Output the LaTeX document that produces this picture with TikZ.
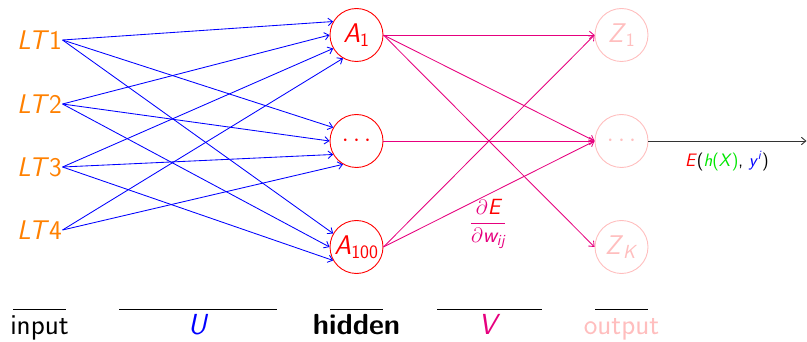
\documentclass[tikz,border=0pt]{standalone}
\usetikzlibrary{arrows.meta}
\definecolor{lorange}{rgb}{1,0.5,0}
\definecolor{lmag}{RGB}{230,0,126}
\definecolor{lpink}{RGB}{255,190,190}
\definecolor{lgreen}{RGB}{0,230,0}
\begin{document}
\begin{tikzpicture}[x=1pt,y=-1pt,
  font=\sffamily,
  >={Straight Barb[length=4.5pt,width=7.5pt]},
  inlabel/.style={text=lorange,inner sep=0.5pt,font=\sffamily\fontsize{27}{30}\selectfont},
  hid/.style={circle,draw=red,line width=0.9pt,minimum size=53pt,inner sep=0pt,text=red,font=\sffamily\fontsize{27}{30}\selectfont},
  outn/.style={circle,draw=lpink,line width=0.9pt,minimum size=53pt,inner sep=0pt,text=lpink,font=\sffamily\fontsize{27}{30}\selectfont},
  uarr/.style={->,draw=blue,line width=0.85pt},
  varr/.style={->,draw=lmag,line width=0.85pt},
  sepline/.style={draw=black,line width=0.9pt},
  bottomlabel/.style={anchor=base,inner sep=0pt,font=\sffamily\fontsize{29}{32}\selectfont}]
\useasboundingbox (0,0) rectangle (807,342);
% input
\node[inlabel] (L1) at (39.5,40) {\textit{LT}1};
\node[inlabel] (L2) at (39.5,104) {\textit{LT}2};
\node[inlabel] (L3) at (39.5,167) {\textit{LT}3};
\node[inlabel] (L4) at (39.5,230) {\textit{LT}4};
% hidden
\node[hid] (A1) at (356.5,35) {\textit{A}\textsubscript{1}};
\node[hid] (Ad) at (356.5,141) {$\cdots$};
\node[hid] (A100) at (356.5,247) {\textit{A}\textsubscript{100}};
% output
\node[outn] (Z1) at (621.5,35) {\textit{Z}\textsubscript{1}};
\node[outn] (Zd) at (621.5,141) {$\cdots$};
\node[outn] (ZK) at (621.5,247) {\textit{Z}\textsubscript{\textit{K}}};
\coordinate (End) at (806.5,141);
% U connections
\draw[uarr] (L1.east) -- (A1.150);
\draw[uarr] (L1.east) -- (Ad.150);
\draw[uarr] (L1.east) -- (A100.150);
\draw[uarr] (L2.east) -- (A1.180);
\draw[uarr] (L2.east) -- (Ad.180);
\draw[uarr] (L2.east) -- (A100.180);
\draw[uarr] (L3.east) -- (A1.210);
\draw[uarr] (L3.east) -- (Ad.210);
\draw[uarr] (L3.east) -- (A100.210);
\draw[uarr] (L4.east) -- (A1.240);
\draw[uarr] (L4.east) -- (Ad.240);
% V connections
\draw[varr] (A1.east) -- (Z1.west);
\draw[varr] (A1.east) -- (Zd.west);
\draw[varr] (A1.east) -- (ZK.west);
\draw[varr] (Ad.east) -- (Zd.west);
\draw[varr] (A100.east) -- (Z1.west);
\draw[varr] (A100.east) -- (Zd.west);
% output arrow
\draw[->,draw=black!80,line width=0.9pt] (Zd.east) -- (End);
\node[font=\sffamily\fontsize{18}{20}\selectfont,inner sep=0pt] (Err) at (727,161)
  {\textcolor{red}{\textit{E}}(\textcolor{lgreen}{\textit{h}(\textit{X})}, \textcolor{blue}{\textit{y}\textsuperscript{\textit{i}}})};
\node[font=\sffamily\fontsize{22}{25}\selectfont,inner sep=0pt,text=lmag] (Grad) at (488,224)
  {$\displaystyle\frac{\partial\mbox{\color{red}\itshape E}}{\partial\mbox{\itshape w\textsubscript{ij}}}$};
% bottom separators
\coordinate (s1a) at (13,309); \coordinate (s1b) at (66,309);
\coordinate (s2a) at (119,309); \coordinate (s2b) at (277,309);
\coordinate (s3a) at (330,309); \coordinate (s3b) at (383,309);
\coordinate (s4a) at (437,309); \coordinate (s4b) at (542,309);
\coordinate (s5a) at (595,309); \coordinate (s5b) at (648,309);
\draw[sepline] (s1a) -- (s1b);
\draw[sepline] (s2a) -- (s2b);
\draw[sepline] (s3a) -- (s3b);
\draw[sepline] (s4a) -- (s4b);
\draw[sepline] (s5a) -- (s5b);
\node[bottomlabel] (tin) at (39.5,334.5) {input};
\node[bottomlabel,text=blue] (tU) at (198,334.5) {\textit{U}};
\node[bottomlabel] (thid) at (356.5,334.5) {\bfseries hidden};
\node[bottomlabel,text=lmag] (tV) at (489.5,334.5) {\textit{V}};
\node[bottomlabel,text=lpink] (tout) at (621.5,334.5) {output};
\end{tikzpicture}
\end{document}
